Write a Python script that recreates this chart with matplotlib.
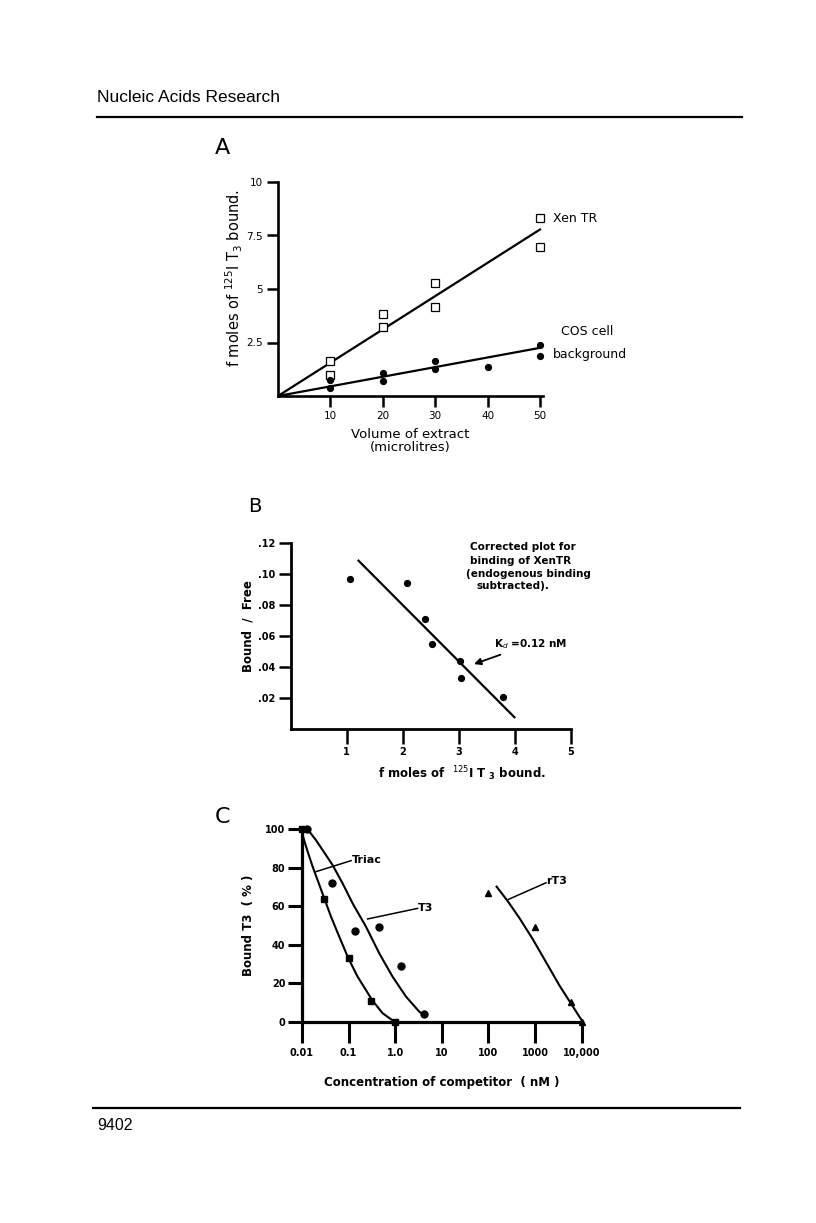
import matplotlib
matplotlib.use('Agg')
import matplotlib.pyplot as plt

plt.rcParams['font.family'] = ['DejaVu Sans']
plt.rcParams['mathtext.fontset'] = 'dejavusans'

# ---- panel A : binding vs volume of extract ----
vol_xen = [10, 10, 20, 20, 30, 30, 50, 50]
xen_tr = [1.65, 0.97, 3.82, 3.21, 5.29, 4.15, 8.3, 6.96]
vol_cos = [10, 10, 20, 20, 30, 30, 40, 50, 50]
cos_bg = [0.73, 0.37, 1.09, 0.70, 1.64, 1.25, 1.36, 2.36, 1.86]
xen_fit_x = [0, 50]
xen_fit_y = [0, 7.78]
cos_fit_x = [0, 50]
cos_fit_y = [0, 2.25]
a_xticks = [10, 20, 30, 40, 50]
a_yticks = [2.5, 5, 7.5, 10]
a_yticklabels = ['2.5', '5', '7.5', '10']

# ---- panel B : Scatchard plot ----
b_bound = [1.05, 2.07, 2.40, 2.52, 3.02, 3.03, 3.79]
b_ratio = [0.0968, 0.0938, 0.0705, 0.0546, 0.0439, 0.0327, 0.0204]
b_fit_x = [1.21, 3.99]
b_fit_y = [0.1084, 0.0073]
b_xticks = [1, 2, 3, 4, 5]
b_yticks = [0.02, 0.04, 0.06, 0.08, 0.10, 0.12]
b_yticklabels = ['.02', '.04', '.06', '.08', '.10', '.12']

# ---- panel C : competition curves ----
triac_x = [0.01, 0.03, 0.1, 0.3, 1.0]
triac_y = [100, 64, 33, 11, 0]
t3_x = [0.013, 0.045, 0.135, 0.45, 1.35, 4.2]
t3_y = [100, 72, 47, 49, 29, 4]
rt3_x = [96, 1000, 5900, 10000]
rt3_y = [67, 49, 10, 0]
# hand-drawn curves
triac_curve_x = [0.0095, 0.0122, 0.0169, 0.0216, 0.0301, 0.0419, 0.063, 0.0986, 0.156, 0.327, 0.537, 0.96]
triac_curve_y = [100, 91, 80.6, 73.6, 64.1, 54.6, 44.2, 33, 23.4, 10.9, 4.4, 0]
t3_curve_x = [0.0132, 0.0199, 0.0327, 0.0454, 0.0743, 0.122, 0.236, 0.456, 0.879, 1.71, 3.29, 4.2]
t3_curve_y = [100, 94.4, 86.6, 81.4, 71.9, 61.5, 49.4, 35.5, 23.4, 13, 5.2, 3.5]
rt3_curve_x = [150, 257, 460, 890, 1720, 3310, 5890, 10500]
rt3_curve_y = [70.2, 62.8, 54, 43, 31, 19, 9.5, 0]
c_xticks = [0.01, 0.1, 1, 10, 100, 1000, 10000]
c_xticklabels = ['0.01', '0.1', '1.0', '10', '100', '1000', '10,000']
c_yticks = [0, 20, 40, 60, 80, 100]

W, H = 816, 1223


def box(x0, y0, x1, y1):
    # pixel box (top-left origin) -> figure fraction
    return [x0 / W, 1 - y1 / H, (x1 - x0) / W, (y1 - y0) / H]


def ftxt(x, y, s, **kw):
    fig.text(x / W, 1 - y / H, s, **kw)


fig = plt.figure(figsize=(W / 100, H / 100), dpi=100)

# page header / footer
ftxt(97, 97, 'Nucleic Acids Research', family='Liberation Sans', fontsize=12.5, va='center')
fig.add_artist(plt.Line2D([97 / W, 742 / W], [1 - 117 / H, 1 - 117 / H], color='black', lw=1.6))
fig.add_artist(plt.Line2D([93 / W, 740 / W], [1 - 1108 / H, 1 - 1108 / H], color='black', lw=1.6))
ftxt(97, 1125, '9402', family='Liberation Sans', fontsize=11.5, va='center')

# ---------------- A ----------------
ax = fig.add_axes(box(278, 182, 542.6, 396))
ax.plot(xen_fit_x, xen_fit_y, color='black', lw=1.6)
ax.plot(cos_fit_x, cos_fit_y, color='black', lw=1.6)
ax.plot(vol_xen, xen_tr, 's', mfc='white', mec='black', mew=0.9, ms=5.5, clip_on=False)
ax.plot(vol_cos, cos_bg, 'o', color='black', ms=4.2, clip_on=False)
ax.set_xlim(0, 50.5)
ax.set_ylim(0, 10)
ax.set_xticks(a_xticks)
ax.set_yticks(a_yticks)
ax.set_yticklabels(a_yticklabels)
for s in ['top', 'right']:
    ax.spines[s].set_visible(False)
for s in ['left', 'bottom']:
    ax.spines[s].set_linewidth(1.9)
ax.tick_params(direction='out', length=8, width=1.8, labelsize=7.5, pad=3)
ax.set_xlabel('Volume of extract\n(microlitres)', fontsize=9.5, linespacing=0.95)
ax.xaxis.set_label_coords(0.5, -0.15)
ax.set_ylabel(r'f moles of $^{125}$I T$_3$ bound.', fontsize=10.5)
ax.yaxis.set_label_coords(-0.125, 0.55)
ax.text(52.5, 8.3, 'Xen TR', fontsize=9, va='center')
ax.text(54, 3.0, 'COS cell', fontsize=9, va='center')
ax.text(52.5, 1.95, 'background', fontsize=9, va='center')
ftxt(222, 148, 'A', fontsize=16, ha='center', va='center')

# ---------------- B ----------------
ax = fig.add_axes(box(290.7, 542.7, 571, 728.5))
ax.plot(b_fit_x, b_fit_y, color='black', lw=1.6)
ax.plot(b_bound, b_ratio, 'o', color='black', ms=4.2, clip_on=False)
ax.set_xlim(0, 5)
ax.set_ylim(0, 0.12)
ax.set_xticks(b_xticks)
ax.set_yticks(b_yticks)
ax.set_yticklabels(b_yticklabels)
for s in ['top', 'right']:
    ax.spines[s].set_visible(False)
for s in ['left', 'bottom']:
    ax.spines[s].set_linewidth(2.0)
ax.tick_params(axis='x', direction='out', length=11, width=1.8, labelsize=7, pad=2)
ax.tick_params(axis='y', direction='out', length=9, width=1.8, labelsize=7, pad=2)
for lab in ax.get_xticklabels() + ax.get_yticklabels():
    lab.set_fontweight('bold')
ax.set_xlabel(r'f moles of  $^{125}$I T $_{\mathbf{3}}$ bound.', fontsize=8.5, fontweight='bold')
ax.xaxis.set_label_coords(0.61, -0.19)
ax.set_ylabel('Bound  /  Free', fontsize=8.5, fontweight='bold')
ax.yaxis.set_label_coords(-0.13, 0.55)
ax.text(3.2, 0.1175, 'Corrected plot for', fontsize=7.5, fontweight='bold', va='center')
ax.text(3.2, 0.1082, 'binding of XenTR', fontsize=7.5, fontweight='bold', va='center')
ax.text(3.12, 0.1001, '(endogenous binding', fontsize=7.5, fontweight='bold', va='center')
ax.text(3.32, 0.0921, 'subtracted).', fontsize=7.5, fontweight='bold', va='center')
ax.annotate(r'K$_d$ =0.12 nM', xy=(3.27, 0.0416), xytext=(3.62, 0.0545),
            fontsize=7.5, fontweight='bold', va='center',
            arrowprops=dict(arrowstyle='-|>', color='black', lw=1.3,
                            mutation_scale=10, shrinkA=2, shrinkB=0))
ftxt(255, 507, 'B', fontsize=14, ha='center', va='center')

# ---------------- C ----------------
ax = fig.add_axes(box(302, 829.3, 581.6, 1021.7))
ax.set_xscale('log')
ax.plot(triac_curve_x, triac_curve_y, color='black', lw=1.5)
ax.plot(t3_curve_x, t3_curve_y, color='black', lw=1.5)
ax.plot(rt3_curve_x, rt3_curve_y, color='black', lw=1.5, clip_on=False)
ax.plot(triac_x, triac_y, 's', color='black', ms=4.3, clip_on=False)
ax.plot(t3_x, t3_y, 'o', color='black', ms=5, clip_on=False)
ax.plot(rt3_x, rt3_y, '^', color='black', ms=5, clip_on=False)
ax.set_xlim(0.01, 10000)
ax.set_ylim(0, 100)
ax.set_xticks(c_xticks)
ax.set_xticklabels(c_xticklabels)
ax.minorticks_off()
ax.set_yticks(c_yticks)
for s in ['top', 'right']:
    ax.spines[s].set_visible(False)
for s in ['left', 'bottom']:
    ax.spines[s].set_linewidth(2.3)
ax.tick_params(axis='x', direction='out', length=15, width=2.2, labelsize=7, pad=4)
ax.tick_params(axis='y', direction='out', length=10, width=2.2, labelsize=7, pad=2)
for lab in ax.get_xticklabels() + ax.get_yticklabels():
    lab.set_fontweight('bold')
ax.set_xlabel('Concentration of competitor  ( nM )', fontsize=8.5, fontweight='bold')
ax.xaxis.set_label_coords(0.5, -0.28)
ax.set_ylabel('Bound T3  ( % )', fontsize=8.5, fontweight='bold')
ax.yaxis.set_label_coords(-0.168, 0.5)
# curve labels with leader lines
ax.plot([0.02, 0.113], [78, 83.7], color='black', lw=1.1)
ax.text(0.115, 84, 'Triac', fontsize=8, fontweight='bold', va='center')
ax.plot([0.256, 3.03], [53.4, 58.9], color='black', lw=1.1)
ax.text(3.05, 59, 'T3', fontsize=8, fontweight='bold', va='center')
ax.plot([271, 1720], [63.6, 72.2], color='black', lw=1.1)
ax.text(1740, 73, 'rT3', fontsize=8, fontweight='bold', va='center')
ftxt(223, 817, 'C', fontsize=16, ha='center', va='center')

plt.savefig('out.png', dpi=100)
